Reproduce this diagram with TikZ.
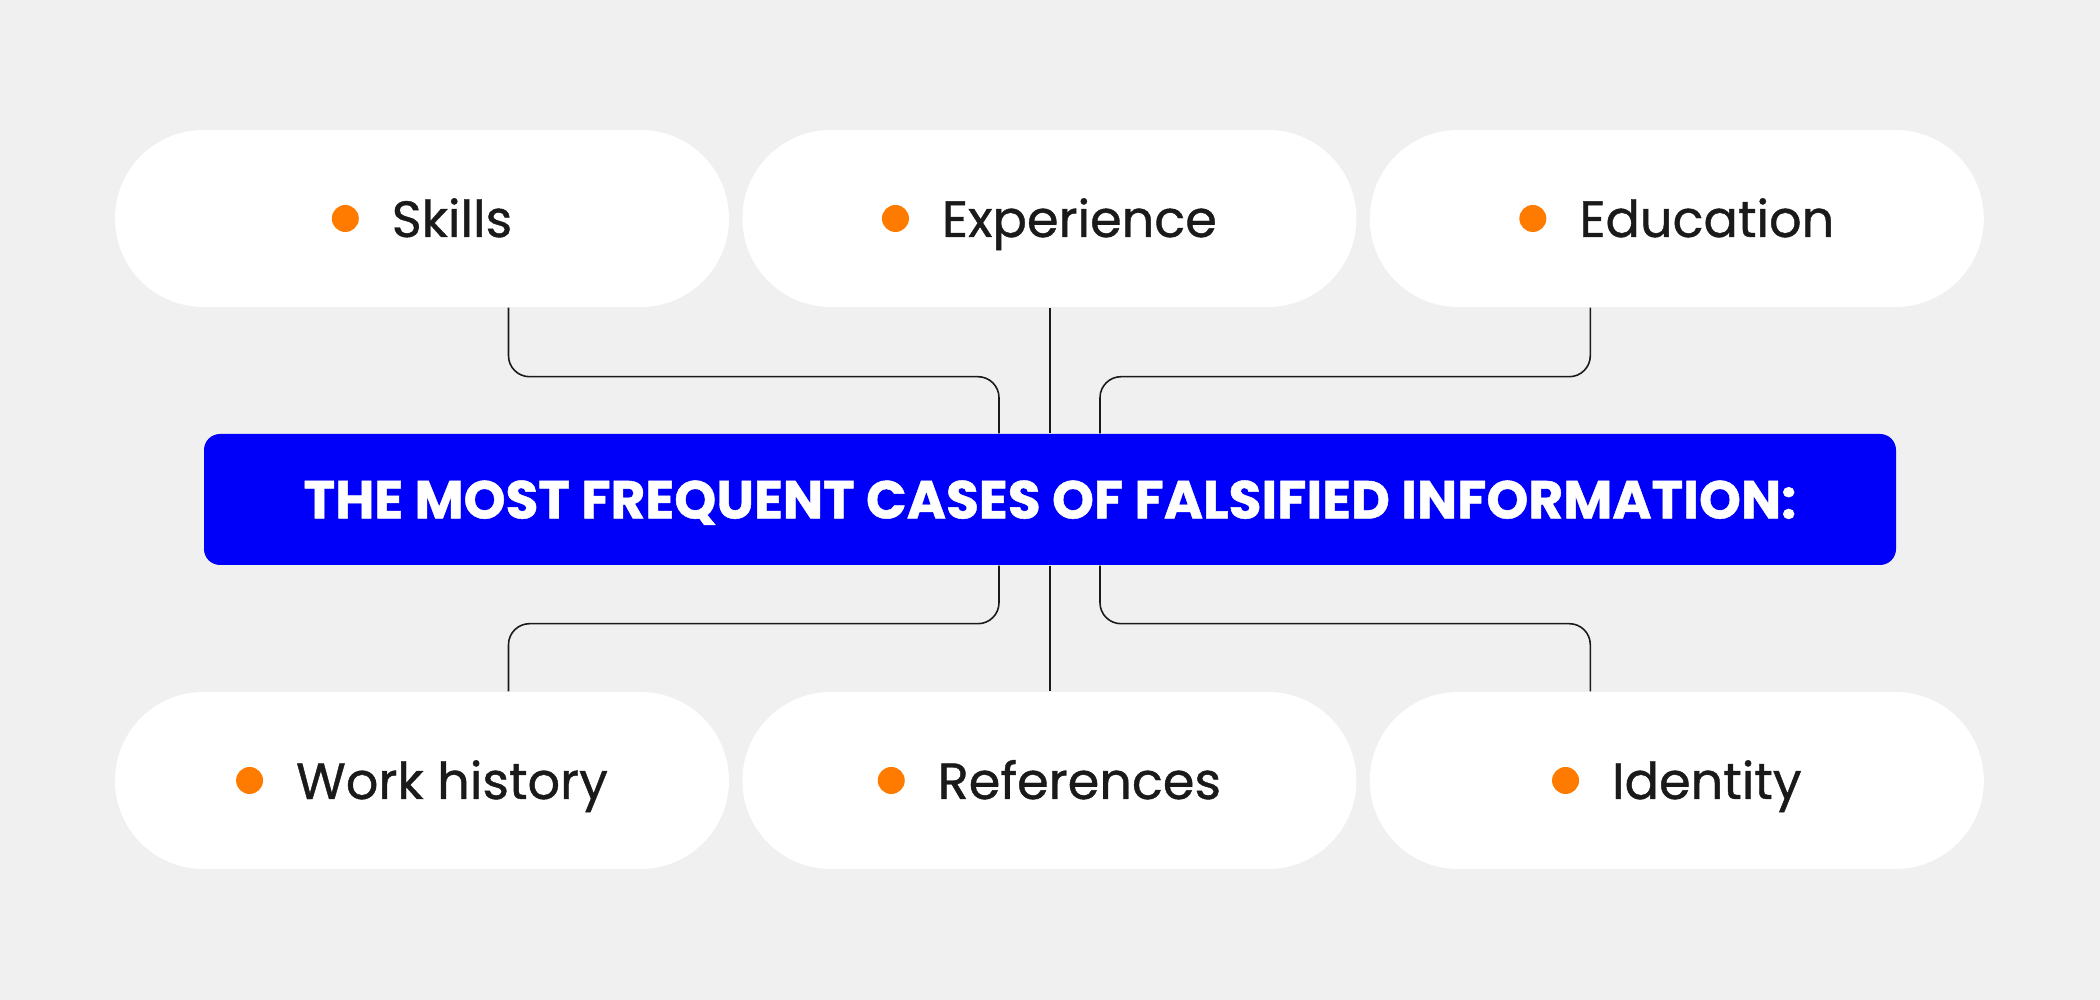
\documentclass[tikz,border=0pt]{standalone}
\usepackage{fontspec}
\setmainfont{Poppins}
\newfontfamily\labelfont{Poppins}[FakeBold=0.8]
\newfontfamily\headfont{Poppins}[BoldFeatures={FakeBold=0.9}]
\usetikzlibrary{positioning}

\definecolor{bgray}{HTML}{F0F0F0}
\definecolor{titleblue}{HTML}{0000FA}
\definecolor{dotorange}{HTML}{FF7B00}
\definecolor{inkdark}{HTML}{1A1A1A}

\newcommand{\bullitem}[1]{%
  \tikz[baseline=-0.185cm]\fill[dotorange] (0,0) circle (0.135);%
  \hspace{0.33cm}#1}

\tikzset{
  pill/.style={fill=white, rounded corners=0.885cm, minimum width=6.14cm,
    minimum height=1.77cm, text height=0.37cm, text depth=0cm,
    font=\labelfont\fontsize{14.5}{18}\selectfont, text=inkdark},
  headbox/.style={fill=titleblue, rounded corners=0.16cm, minimum width=16.92cm,
    minimum height=1.31cm, text height=0.38cm, text depth=0cm, text=white,
    font=\headfont\fontsize{15.2}{18}\selectfont\bfseries},
  link/.style={draw=inkdark, line width=0.45pt, rounded corners=0.21cm}
}

\begin{document}
\begin{tikzpicture}
  % Fondo
  \fill[bgray] (0,0) rectangle (21,-10);
  \useasboundingbox (0,0) rectangle (21,-10);

  % Titulo
  \node[headbox] (title) at (10.5,-4.995) {THE MOST FREQUENT CASES OF FALSIFIED INFORMATION:};

  % Fila superior
  \node[pill] (skills) at (4.22,-2.185) {\bullitem{Skills}};
  \node[pill, right=0.12cm of skills] (exper) {\bullitem{Experience}};
  \node[pill, right=0.12cm of exper] (educ) {\bullitem{Education}};

  % Fila inferior
  \node[pill] (work) at (4.22,-7.805) {\bullitem{Work history}};
  \node[pill, right=0.12cm of work] (refs) {\bullitem{References}};
  \node[pill, right=0.12cm of refs] (ident) {\bullitem{Identity}};

  % Conectores arriba
  \draw[link] ([xshift=0.865cm]skills.south) -- ++(0,-0.69) -| ([xshift=-0.51cm]title.north);
  \draw[link] (title.north |- exper.south) -- (title.north);
  \draw[link] ([xshift=-0.865cm]educ.south) -- ++(0,-0.69) -| ([xshift=0.5cm]title.north);

  % Conectores abajo
  \draw[link] ([xshift=-0.51cm]title.south) -- ++(0,-0.58) -| ([xshift=0.865cm]work.north);
  \draw[link] (title.south) -- (title.south |- refs.north);
  \draw[link] ([xshift=0.5cm]title.south) -- ++(0,-0.58) -| ([xshift=-0.865cm]ident.north);
\end{tikzpicture}
\end{document}
